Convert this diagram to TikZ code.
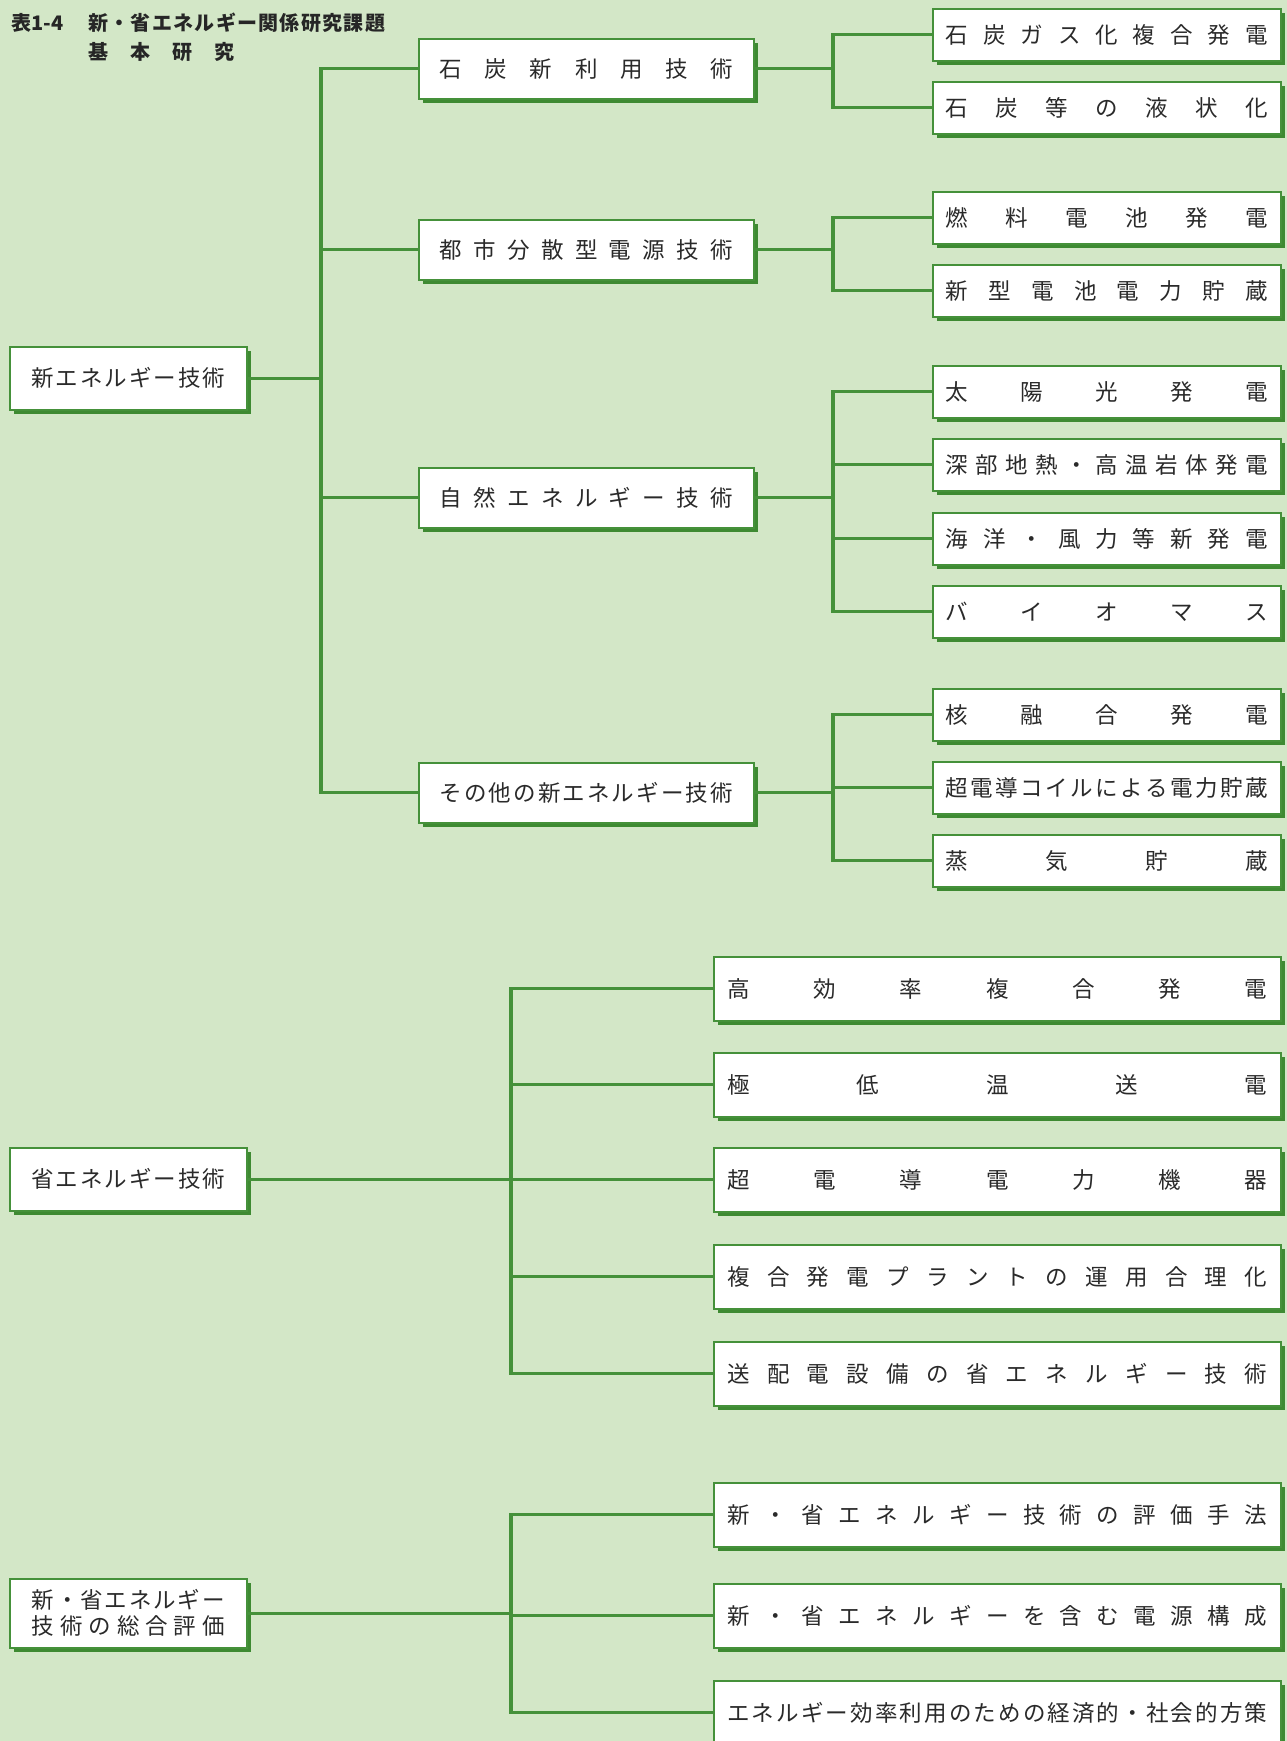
\documentclass[tikz,border=0pt]{standalone}
\usepackage{fontspec}
\setmainfont{Noto Sans CJK JP}
\usetikzlibrary{shadows}
\definecolor{bgc}{HTML}{D3E7C7}
\definecolor{lg}{HTML}{45913A}
\definecolor{sg}{HTML}{3E8A32}
\definecolor{txt}{HTML}{2A2A2A}
\makeatletter
\def\spreadtext#1#2{\hbox to #1{\spr@first#2\relax}}
\def\spr@first#1{#1\spr@rest}
\def\spr@rest#1{\ifx#1\relax\else\hfill#1\expandafter\spr@rest\fi}
\makeatother
\begin{document}
\begin{tikzpicture}[x=1pt,y=-1pt,
  box/.style={draw=lg, line width=1.6pt, fill=white, inner sep=0pt, anchor=north west,
    drop shadow={shadow xshift=4.5pt, shadow yshift=-4.5pt, fill=sg, opacity=1},
    text=txt, font=\fontsize{22.5}{26}\selectfont},
  lone/.style={box, minimum width=237pt, minimum height=63pt},
  ltwo/.style={box, minimum width=335pt, minimum height=60pt},
  lthree/.style={box, minimum width=348pt, minimum height=52pt},
  lfour/.style={box, minimum width=567pt, minimum height=64pt},
  conn/.style={draw=lg, line width=3.2pt, line join=miter},
  ttl/.style={anchor=west, inner sep=0pt, text=black!85, font=\fontsize{20}{23}\selectfont\bfseries}]
\useasboundingbox (0,0) rectangle (1287,1741);
\clip (0,0) rectangle (1287,1741);
\fill[bgc] (0,0) rectangle (1287,1741);

% title
\node[ttl] (t0) at (11,23) {表1-4};
\node[ttl] (t1) at (88,23) {\spreadtext{297pt}{新・省エネルギー関係研究課題}};
\node[ttl] (t2) at (88,52) {\spreadtext{146pt}{基本研究}};

% bus coordinates
\coordinate (b0) at (321,0);
\coordinate (b1) at (833,0);
\coordinate (b2) at (511,0);

% level 1
\node[lone] (n1) at (9,346) {\spreadtext{194pt}{新エネルギー技術}};
\node[lone] (n2) at (9,1147) {\spreadtext{194pt}{省エネルギー技術}};
\node[lone, minimum height=69pt, align=center] (n3) at (9,1578)
  {\spreadtext{193pt}{新・省エネルギー}\\\spreadtext{193pt}{技術の総合評価}};

% level 2
\node[ltwo] (m1) at (418,38) {\spreadtext{293pt}{石炭新利用技術}};
\node[ltwo] (m2) at (418,219) {\spreadtext{293pt}{都市分散型電源技術}};
\node[ltwo] (m3) at (418,467) {\spreadtext{293pt}{自然エネルギー技術}};
\node[ltwo] (m4) at (418,762) {\spreadtext{293pt}{その他の新エネルギー技術}};

% level 3 (group 1)
\node[lthree] (c11) at (932,8) {\spreadtext{322pt}{石炭ガス化複合発電}};
\node[lthree] (c12) at (932,81) {\spreadtext{322pt}{石炭等の液状化}};
\node[lthree] (c21) at (932,191) {\spreadtext{322pt}{燃料電池発電}};
\node[lthree] (c22) at (932,264) {\spreadtext{322pt}{新型電池電力貯蔵}};
\node[lthree] (c31) at (932,365) {\spreadtext{322pt}{太陽光発電}};
\node[lthree] (c32) at (932,438) {\spreadtext{322pt}{深部地熱・高温岩体発電}};
\node[lthree] (c33) at (932,512) {\spreadtext{322pt}{海洋・風力等新発電}};
\node[lthree] (c34) at (932,585) {\spreadtext{322pt}{バイオマス}};
\node[lthree] (c41) at (932,688) {\spreadtext{322pt}{核融合発電}};
\node[lthree] (c42) at (932,761) {\spreadtext{322pt}{超電導コイルによる電力貯蔵}};
\node[lthree] (c43) at (932,834) {\spreadtext{322pt}{蒸気貯蔵}};

% group 2
\node[lfour] (d1) at (713,956) {\spreadtext{540pt}{高効率複合発電}};
\node[lfour] (d2) at (713,1052) {\spreadtext{540pt}{極低温送電}};
\node[lfour] (d3) at (713,1147) {\spreadtext{540pt}{超電導電力機器}};
\node[lfour] (d4) at (713,1244) {\spreadtext{540pt}{複合発電プラントの運用合理化}};
\node[lfour] (d5) at (713,1341) {\spreadtext{540pt}{送配電設備の省エネルギー技術}};

% group 3
\node[lfour] (e1) at (713,1482) {\spreadtext{540pt}{新・省エネルギー技術の評価手法}};
\node[lfour] (e2) at (713,1583) {\spreadtext{540pt}{新・省エネルギーを含む電源構成}};
\node[lfour] (e3) at (713,1680) {\spreadtext{540pt}{エネルギー効率利用のための経済的・社会的方策}};

% connectors
\foreach \c in {m1,m2,m3,m4}
  \draw[conn] (n1.east) -- (n1.east -| b0) |- (\c.west);
\foreach \c in {c11,c12}
  \draw[conn] (m1.east) -- (m1.east -| b1) |- (\c.west);
\foreach \c in {c21,c22}
  \draw[conn] (m2.east) -- (m2.east -| b1) |- (\c.west);
\foreach \c in {c31,c32,c33,c34}
  \draw[conn] (m3.east) -- (m3.east -| b1) |- (\c.west);
\foreach \c in {c41,c42,c43}
  \draw[conn] (m4.east) -- (m4.east -| b1) |- (\c.west);
\foreach \c in {d1,d2,d3,d4,d5}
  \draw[conn] (n2.east) -- (n2.east -| b2) |- (\c.west);
\foreach \c in {e1,e2,e3}
  \draw[conn] (n3.east) -- (n3.east -| b2) |- (\c.west);
\end{tikzpicture}
\end{document}
